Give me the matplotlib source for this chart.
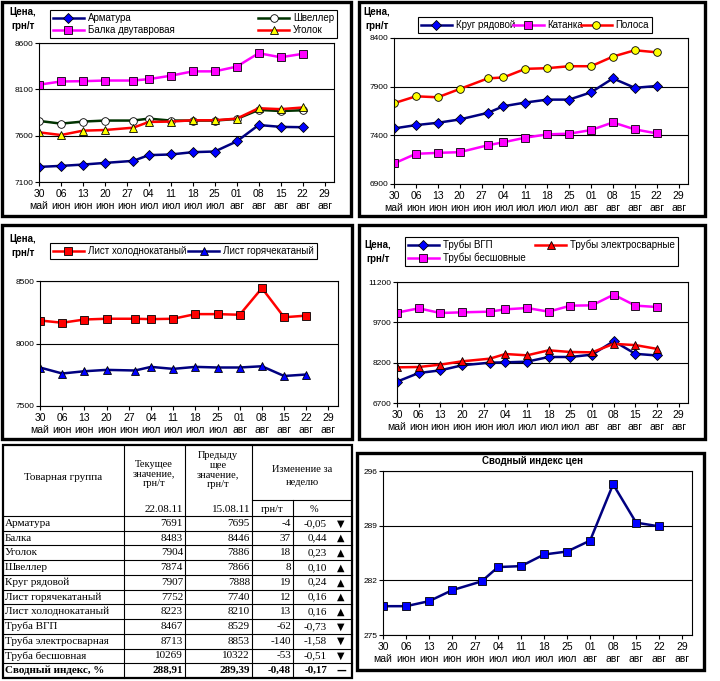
"""
weekly metal prices (Ukraine, grn/t): four line panels, a summary table
and the summary price index, all on one 720x681 figure
"""
import matplotlib
matplotlib.use('Agg')
import matplotlib.pyplot as plt
from matplotlib.patches import Rectangle
import numpy as np
import pandas as pd

plt.rcParams['font.family'] = ['Liberation Sans', 'DejaVu Sans']

# dates of the weekly observations (the 5th one fell on a wednesday)
dates = pd.to_datetime(['2011-05-30', '2011-06-06', '2011-06-13', '2011-06-20', '2011-06-29',
                        '2011-07-04', '2011-07-11', '2011-07-18', '2011-07-25', '2011-08-01',
                        '2011-08-08', '2011-08-15', '2011-08-22'])
tick_dates = pd.to_datetime(['2011-05-30', '2011-06-06', '2011-06-13', '2011-06-20', '2011-06-27',
                             '2011-07-04', '2011-07-11', '2011-07-18', '2011-07-25', '2011-08-01',
                             '2011-08-08', '2011-08-15', '2011-08-22', '2011-08-29'])
tick_days = ['30', '06', '13', '20', '27', '04', '11', '18', '25', '01', '08', '15', '22', '29']
tick_months = ['май', 'июн', 'июн', 'июн', 'июн', 'июл', 'июл', 'июл', 'июл',
               'авг', 'авг', 'авг', 'авг', 'авг']

# panel 1
armatura = [7263, 7274, 7288, 7306, 7328, 7390, 7397, 7422, 7429, 7538, 7715, 7695, 7691]
balka = [8150, 8185, 8188, 8195, 8195, 8210, 8247, 8294, 8294, 8345, 8490, 8446, 8483]
shveller = [7759, 7730, 7752, 7763, 7763, 7784, 7763, 7763, 7763, 7780, 7878, 7866, 7874]
ugolok = [7636, 7607, 7654, 7661, 7686, 7748, 7752, 7766, 7766, 7784, 7896, 7886, 7904]
# panel 2
krug = [7471, 7505, 7529, 7563, 7631, 7699, 7737, 7767, 7767, 7842, 7985, 7888, 7907]
katanka = [7111, 7210, 7220, 7227, 7298, 7329, 7376, 7410, 7417, 7454, 7533, 7461, 7420]
polosa = [7730, 7801, 7791, 7876, 7985, 7995, 8083, 8090, 8110, 8110, 8209, 8274, 8253]
# panel 3
list_cold = [8184, 8166, 8192, 8198, 8198, 8195, 8198, 8235, 8235, 8230, 8443, 8210, 8223]
list_hot = [7808, 7760, 7778, 7789, 7784, 7813, 7797, 7813, 7808, 7808, 7818, 7740, 7752]
# panel 4
vgp = [7493, 7815, 7914, 8101, 8200, 8212, 8237, 8411, 8411, 8498, 9000, 8529, 8467]
elektro = [8026, 8039, 8126, 8250, 8349, 8522, 8473, 8659, 8597, 8584, 8900, 8853, 8713]
besshov = [10060, 10221, 10047, 10072, 10097, 10184, 10233, 10097, 10320, 10332, 10729, 10322, 10269]
# summary index
price_index = [278.69, 278.69, 279.33, 280.73, 281.87, 283.70, 283.82, 285.31, 285.69,
               287.09, 294.30, 289.39, 288.91]

# table
table_names = ['Арматура', 'Балка', 'Уголок', 'Швеллер', 'Круг рядовой', 'Лист горячекатаный',
               'Лист холоднокатаный', 'Труба ВГП', 'Труба электросварная', 'Труба бесшовная',
               'Сводный индекс, %']
table_cur = ['7691', '8483', '7904', '7874', '7907', '7752', '8223', '8467', '8713', '10269', '288,91']
table_prev = ['7695', '8446', '7886', '7866', '7888', '7740', '8210', '8529', '8853', '10322', '289,39']
table_diff = ['-4', '37', '18', '8', '19', '12', '13', '-62', '-140', '-53', '-0,48']
table_pct = ['-0,05', '0,44', '0,23', '0,10', '0,24', '0,16', '0,16', '-0,73', '-1,58', '-0,51', '-0,17']
table_arrow = ['▼', '▲', '▲', '▲', '▲', '▲', '▲', '▼', '▼', '▼', '—']

W, H = 720, 681
fig = plt.figure(figsize=(W / 100, H / 100), dpi=100)


def fig_box(x0, y0, x1, y1):
    """pixel box (top-left origin) -> figure fraction [left, bottom, width, height]"""
    return [x0 / W, 1 - y1 / H, (x1 - x0) / W, (y1 - y0) / H]


def date_axes(box, ylim, step):
    ax = fig.add_axes(fig_box(*box))
    ax.set_xlim(pd.Timestamp('2011-05-30'), pd.Timestamp('2011-09-01'))
    ax.set_ylim(*ylim)
    ax.set_yticks(np.arange(ylim[0], ylim[1] + 1, step))
    ax.yaxis.grid(True, color='black', lw=0.8)
    ax.set_axisbelow(True)
    ax.set_xticks(tick_dates)
    ax.set_xticklabels([f'{d}\n{m}' for d, m in zip(tick_days, tick_months)],
                       fontsize=7.5, linespacing=1.25)
    ax.tick_params(axis='x', length=3, pad=2, width=0.8)
    ax.tick_params(axis='y', labelsize=6, length=3, pad=1, width=0.8)
    for spine in ax.spines.values():
        spine.set_linewidth(0.8)
    return ax


def series(ax, values, line, marker, face, size=5.5):
    h, = ax.plot(dates, values, color=line, lw=1.8, marker=marker, ms=size,
                 mfc=face, mec='black', mew=0.6)
    return h


def legend(ax, handles, labels, box, ncol, spacing=2.0, expand=True):
    leg = ax.legend(handles, labels, loc='upper left', bbox_to_anchor=fig_box(*box),
                    bbox_transform=fig.transFigure, mode='expand' if expand else None,
                    ncol=ncol, fontsize=7, fancybox=False, edgecolor='black', framealpha=1,
                    borderaxespad=0, handlelength=3.2, borderpad=0.3, labelspacing=0.25,
                    handletextpad=0.4, columnspacing=spacing)
    leg.get_frame().set_linewidth(0.8)


# panel 1
ax1 = date_axes((39, 43, 334, 182), (7100, 8600), 500)
h1 = series(ax1, armatura, '#000080', 'D', '#0000FF', 5)
h2 = series(ax1, balka, '#FF00FF', 's', '#FF00FF')
h3 = series(ax1, shveller, '#003300', 'o', 'white')
h4 = series(ax1, ugolok, '#FF0000', '^', '#FFFF00', 6)
legend(ax1, [h1, h2, h3, h4], ['Арматура', 'Балка двутавровая', 'Швеллер', 'Уголок'],
       (50, 10, 337, 37), 2)

# panel 2
ax2 = date_axes((394, 38, 688, 184), (6900, 8400), 500)
h1 = series(ax2, krug, '#000080', 'D', '#0000FF', 5)
h2 = series(ax2, katanka, '#FF00FF', 's', '#FF00FF')
h3 = series(ax2, polosa, '#FF0000', 'o', '#FFFF00')
legend(ax2, [h1, h2, h3], ['Круг рядовой', 'Катанка', 'Полоса'], (418, 17, 652, 32), 3)

# panel 3
ax3 = date_axes((40, 281, 338, 406), (7500, 8500), 500)
h1 = series(ax3, list_cold, '#FF0000', 's', '#FF0000')
h2 = series(ax3, list_hot, '#000080', '^', '#0000FF', 6)
legend(ax3, [h1, h2], ['Лист холоднокатаный', 'Лист горячекатаный'], (50, 243, 317, 261), 2)

# panel 4
ax4 = date_axes((397, 282, 688, 403), (6700, 11200), 1500)
h1 = series(ax4, vgp, '#000080', 'D', '#0000FF', 5)
h2 = series(ax4, elektro, '#FF0000', '^', '#FF0000', 6)
h3 = series(ax4, besshov, '#FF00FF', 's', '#FF00FF')
legend(ax4, [h1, h3, h2], ['Трубы ВГП', 'Трубы бесшовные', 'Трубы электросварные'],
       (405, 237, 678, 268), 2)

# summary index
ax6 = date_axes((383, 471, 692, 635), (275, 296), 7)
series(ax6, price_index, '#000080', 's', '#0000FF', 6)

# overlay in pixel coordinates for frames, texts and the table
ov = fig.add_axes([0, 0, 1, 1])
ov.set_xlim(0, W)
ov.set_ylim(H, 0)
ov.axis('off')

for x0, y0, x1, y1 in [(1.5, 1.5, 351, 216), (358.5, 1.5, 704.5, 216),
                       (1.5, 224.5, 351.5, 438.5), (358.5, 224.5, 704.5, 438.5),
                       (356.5, 453, 704, 669.5)]:
    ov.add_patch(Rectangle((x0, y0), x1 - x0, y1 - y0, fill=False, ec='black', lw=2.4))

for x, y in [(23, 19), (377, 19), (23, 246), (378, 252)]:
    ov.text(x, y, 'Цена,\nгрн/т', ha='center', va='center', fontsize=7, fontweight='bold',
            linespacing=1.5)
ov.text(532, 461, 'Сводный индекс цен', ha='center', va='center', fontsize=7, fontweight='bold')

# table
serif = ['Liberation Serif', 'DejaVu Serif']
cols = [3, 124, 185, 252, 293, 352]
top, head_bot, sub_line = 445, 516, 500
row_h = (678 - head_bot) / len(table_names)
bottom = head_bot + row_h * len(table_names)

ov.add_patch(Rectangle((cols[0], top), cols[-1] - cols[0], bottom - top, fill=False,
                       ec='black', lw=1.6))
for x in cols[1:4]:
    ov.plot([x, x], [top, bottom], color='black', lw=0.8)
ov.plot([cols[4], cols[4]], [sub_line, bottom], color='black', lw=0.8)
ov.plot([cols[3], cols[5]], [sub_line, sub_line], color='black', lw=0.8)
for i in range(len(table_names)):
    y = head_bot + i * row_h
    ov.plot([cols[0], cols[5]], [y, y], color='black', lw=0.8)

ov.text(63, 478, 'Товарная группа', ha='center', va='center', fontsize=8, family=serif)
ov.text(154, 474, 'Текущее\nзначение,\nгрн/т', ha='center', va='center', fontsize=7.5,
        family=serif, linespacing=1.1)
ov.text(218, 470, 'Предыду\nщее\nзначение,\nгрн/т', ha='center', va='center', fontsize=7.5,
        family=serif, linespacing=1.1)
ov.text(302, 476, 'Изменение за\nнеделю', ha='center', va='center', fontsize=7.5,
        family=serif, linespacing=1.5)
ov.text(183, 509, '22.08.11', ha='right', va='center', fontsize=8, family=serif)
ov.text(250, 509, '15.08.11', ha='right', va='center', fontsize=8, family=serif)
ov.text(272, 509, 'грн/т', ha='center', va='center', fontsize=7.5, family=serif)
ov.text(314, 509, '%', ha='center', va='center', fontsize=7.5, family=serif)

for i, name in enumerate(table_names):
    y = head_bot + (i + 0.5) * row_h
    weight = 'bold' if i == len(table_names) - 1 else 'normal'
    kw = dict(va='center', fontsize=8, family=serif, fontweight=weight)
    ov.text(5, y, name, ha='left', **kw)
    ov.text(183, y, table_cur[i], ha='right', **kw)
    ov.text(250, y, table_prev[i], ha='right', **kw)
    ov.text(291, y, table_diff[i], ha='right', **kw)
    ov.text(327, y, table_pct[i], ha='right', **kw)
    ov.text(341, y, table_arrow[i], ha='center', va='center', fontsize=7,
            family=['DejaVu Sans'], fontweight='bold')

fig.savefig('out.png', dpi=100)
